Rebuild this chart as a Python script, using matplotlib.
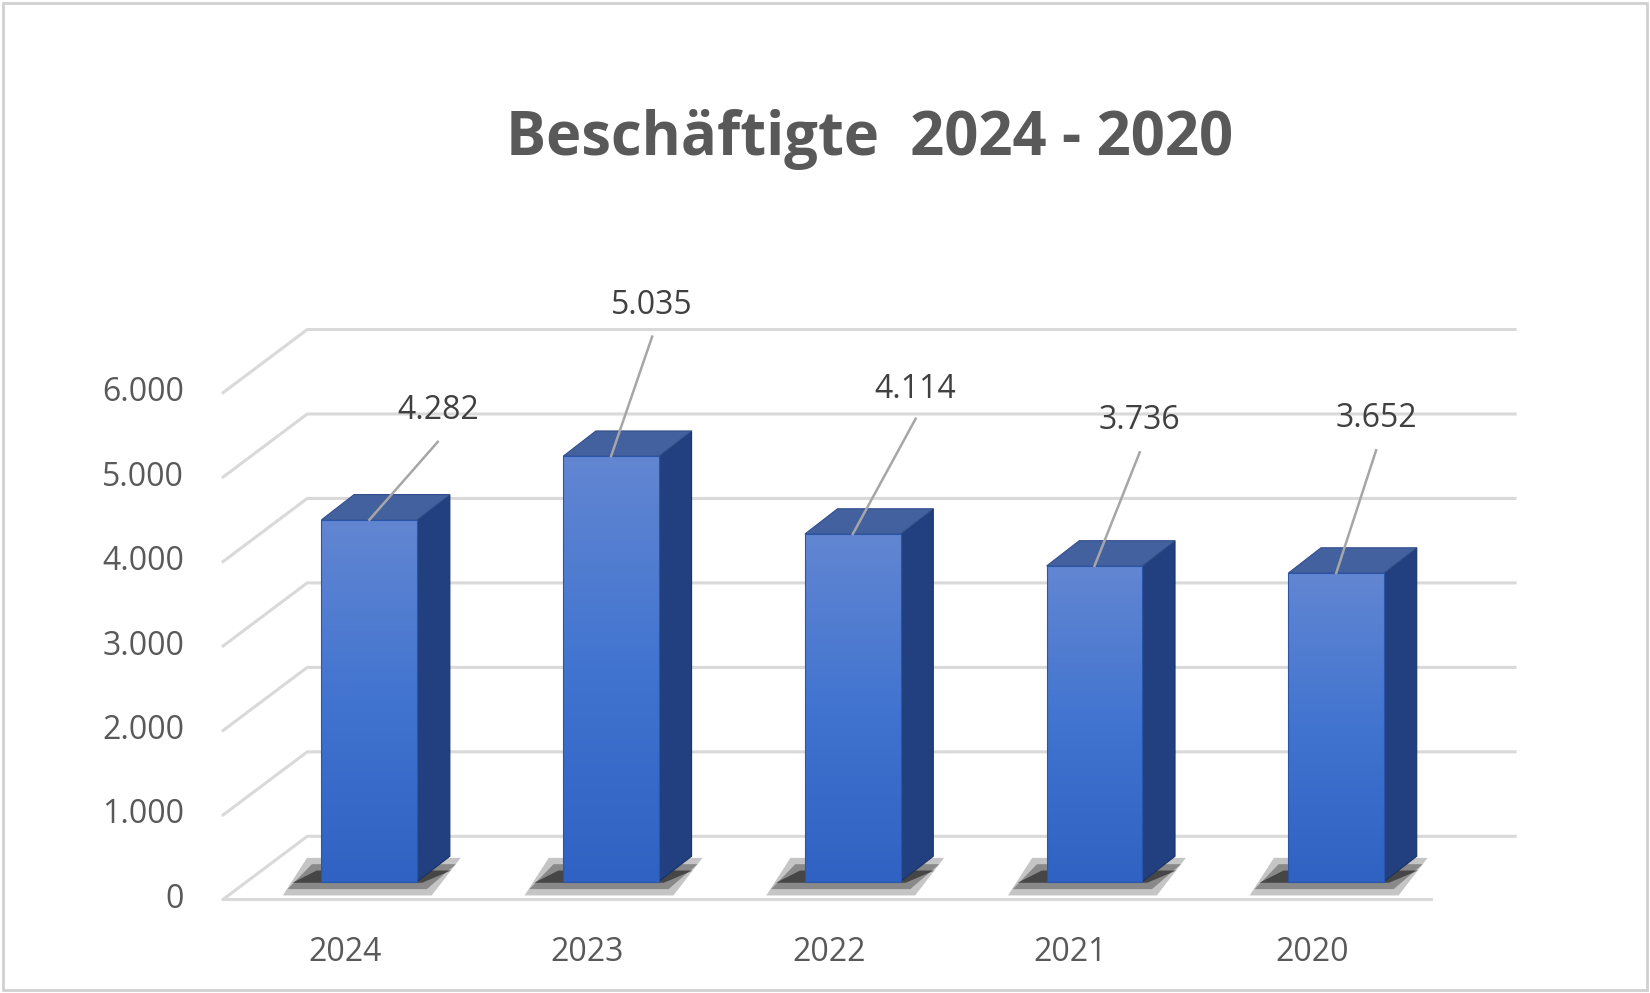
import numpy as np
import matplotlib.pyplot as plt
from matplotlib.patches import Polygon, Rectangle
from matplotlib.colors import LinearSegmentedColormap

# Daten
years = ["2024", "2023", "2022", "2021", "2020"]
employees = [4282, 5035, 4114, 3736, 3652]
ticks = [0, 1000, 2000, 3000, 4000, 5000, 6000]
tick_labels = ["0", "1.000", "2.000", "3.000", "4.000", "5.000", "6.000"]

# Pseudo-3D Geometrie (Kategorie-Einheiten / Werte-Einheiten)
WALL_X0, FLOOR_X1, BACK_X1 = -0.605, 4.39, 4.74
DEPTH_DX, DEPTH_DY = 0.348, 747
BAR_SHIFT = 212
BAR_W = 0.396
SIDE_DX, SIDE_DY = 0.135, 299
label_dx = [0.283, 0.17, 0.26, 0.187, 0.165]
label_y = [5791, 7036, 6040, 5666, 5691]
line_top = [5417, 6663, 5691, 5293, 5318]

GRID = "#D9D9D9"
TXT = "#595959"

fig = plt.figure(figsize=(16.5, 9.93), dpi=100)
ax = fig.add_axes([0, 0, 1, 1])
ax.set_xlim(-1.528, 5.298)
ax.set_ylim(-1108, 10648)
ax.axis("off")

fig.patches.append(Rectangle((0.002, 0.003), 0.996, 0.994, transform=fig.transFigure,
                             fill=False, edgecolor="#D0D0D0", lw=2))

# Gitterlinien (Rückwand + Seitenwand)
for v in ticks:
    ax.plot([WALL_X0, WALL_X0 + DEPTH_DX, BACK_X1], [v, v + DEPTH_DY, v + DEPTH_DY],
            color=GRID, lw=2.2, zorder=1)
ax.plot([WALL_X0, FLOOR_X1], [0, 0], color=GRID, lw=2.2, zorder=1)

for i, v in enumerate(tick_labels):
    ax.text(-0.766, ticks[i], v, ha="right", va="center", fontsize=23, color=TXT,
            family="Open Sans")

grad = np.linspace(0, 1, 256).reshape(-1, 1)
cmap = LinearSegmentedColormap.from_list("b", ["#2F62C2", "#4174D0", "#6286D2"])

for i, (yr, val) in enumerate(zip(years, employees)):
    x0, x1 = i - BAR_W / 2, i + BAR_W / 2
    y0, y1 = BAR_SHIFT, BAR_SHIFT + val
    # Schatten (mehrlagig, weich)
    for k, a in [(0.04, 0.25), (0.02, 0.35), (0.0, 0.6)]:
        ax.add_patch(Polygon([(x0 - 0.12 - k, y0 - 15 - 150 * k / 0.04), (x1 + 0.02 + k, y0 - 15 - 150 * k / 0.04),
                              (x1 + 0.14 + k, y0 + 130 + 150 * k / 0.04), (x0 - 0.02 - k, y0 + 130 + 150 * k / 0.04)],
                             closed=True, color="#1A1A1A", alpha=a, lw=0, zorder=2))
    # Seite und Deckel
    ax.add_patch(Polygon([(x1, y0), (x1 + SIDE_DX, y0 + SIDE_DY), (x1 + SIDE_DX, y1 + SIDE_DY), (x1, y1)],
                         closed=True, facecolor="#22407F", edgecolor="#1A3366", lw=0.8, zorder=3))
    ax.add_patch(Polygon([(x0, y1), (x1, y1), (x1 + SIDE_DX, y1 + SIDE_DY), (x0 + SIDE_DX, y1 + SIDE_DY)],
                         closed=True, facecolor="#43609F", edgecolor="#34508C", lw=0.8, zorder=3))
    # Vorderseite mit Verlauf
    front = Rectangle((x0, y0), BAR_W, val, facecolor="none", edgecolor="#2A55A8", lw=0.8, zorder=5)
    ax.add_patch(front)
    im = ax.imshow(grad, extent=[x0, x1, y0, y1], cmap=cmap, aspect="auto",
                   origin="lower", zorder=4)
    im.set_clip_path(front)
    # Datenbeschriftung
    ax.plot([i, i + label_dx[i]], [y1, line_top[i]], color="#A6A6A6", lw=1.8, zorder=6)
    ax.text(i + label_dx[i], label_y[i], f"{val/1000:.3f}", ha="center", va="center",
            fontsize=23, color="#404040", family="Open Sans")
    ax.text(i - 0.1, -623, yr, ha="center", va="center", fontsize=23, color=TXT,
            family="Open Sans")

ax.text(2.07, 9000, "Beschäftigte  2024 - 2020", ha="center", va="center",
        fontsize=43, fontweight="bold", color=TXT, family="Open Sans")

fig.savefig("out.png", dpi=100)
